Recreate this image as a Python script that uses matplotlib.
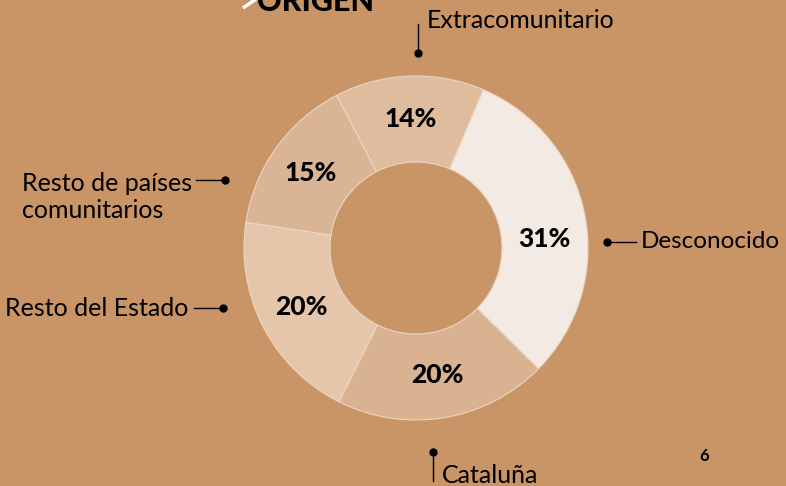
import numpy as np
import matplotlib.pyplot as plt

# data, clockwise from the top-right wedge
categories = ['Desconocido', 'Cataluña', 'Resto del Estado',
              'Resto de países\ncomunitarios', 'Extracomunitario']
shares = [31, 20, 20, 15, 14]
pct_labels = ['31%', '20%', '20%', '15%', '14%']
slice_colors = ['#f3ebe3', '#d9b292', '#e5c6ab', '#d9b596', '#dfbc9d']

W, H = 786, 486
BG = '#c99566'

fig = plt.figure(figsize=(W / 100, H / 100), dpi=100, facecolor=BG)
ax = fig.add_axes([0, 0, 1, 1])

def py(y):
    # pixel row (top origin) -> data y
    return H - y

cx, cy, R = 416, py(248), 172
start = 67

wedges, _ = ax.pie(shares, colors=slice_colors, startangle=start,
                   counterclock=False, radius=R, center=(cx, cy),
                   wedgeprops=dict(width=R * 0.5, edgecolor='#ead6c4', linewidth=0.8),
                   frame=True)
ax.set_xlim(0, W)
ax.set_ylim(0, H)
ax.set_aspect('equal')
ax.axis('off')

# percentage labels inside the ring
shift = [-7, 0, 0, 0, 0]
for w, lab, s in zip(wedges, pct_labels, shift):
    ang = np.deg2rad((w.theta1 + w.theta2) / 2 + s)
    r = R * 0.75
    ax.text(cx + r * np.cos(ang), cy + r * np.sin(ang), lab,
            ha='center', va='center', fontsize=19, fontweight=900,
            family='Lato', color='black')

# callouts: dot, leader line, text
def dot(x, y):
    ax.plot([x], [py(y)], 'o', color='black', markersize=5)

lab_kw = dict(fontsize=18, family='Lato', color='black')

# Desconocido
dot(607, 242)
ax.plot([607, 636], [py(242), py(242)], color='black', lw=1)
ax.text(641, py(242), categories[0], ha='left', va='center', fontsize=17.5,
        family='Lato', color='black')

# Cataluña
dot(433, 452)
ax.plot([433, 433], [py(452), py(481)], color='black', lw=1)
ax.text(442, py(483), categories[1], ha='left', va='baseline', **lab_kw)

# Resto del Estado
dot(223, 308)
ax.plot([194, 223], [py(308), py(308)], color='black', lw=1)
ax.text(188, py(308), categories[2], ha='right', va='center', **lab_kw)

# Resto de países comunitarios
dot(225, 180)
ax.plot([196, 225], [py(180), py(180)], color='black', lw=1)
ax.text(22, py(197), categories[3], ha='left', va='center',
        linespacing=1.2, **lab_kw)

# Extracomunitario
dot(418, 53)
ax.plot([418, 418], [py(24), py(53)], color='black', lw=1)
ax.text(427, py(21), categories[4], ha='left', va='center', **lab_kw)

# title, cut off at the top edge as in the page
ax.text(257, py(11), 'ORIGEN', ha='left', va='baseline', fontsize=22,
        fontweight=900, family='Lato', color='black')
ax.plot([256, 243], [py(-1), py(8)], color='white', lw=2.5, solid_capstyle='butt')

# page number
ax.text(704, py(456), '6', ha='center', va='center', fontsize=12,
        fontweight='bold', family='Lato', color='black')

fig.savefig('out.png', dpi=100, facecolor=BG)
